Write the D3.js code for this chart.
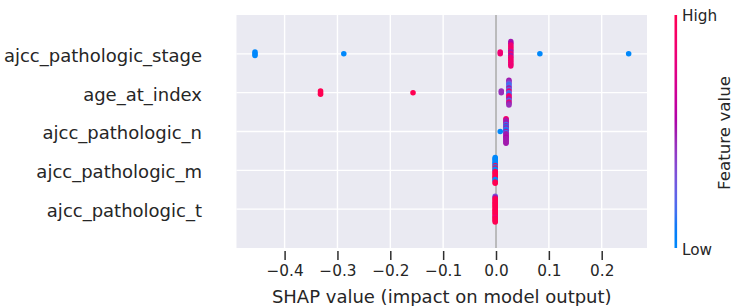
<!DOCTYPE html>
<html>
<head>
<meta charset="utf-8">
<script src="https://cdn.jsdelivr.net/npm/d3@7"></script>
<style>
    body { margin: 0; background: #fff; }
    svg text { font-family: "DejaVu Sans", sans-serif; fill: #262626; }
</style>
</head>
<body>
<div id="chart"></div>
<script>
// features, top row first
var featureNames = ["ajcc_pathologic_stage", "age_at_index", "ajcc_pathologic_n", "ajcc_pathologic_m", "ajcc_pathologic_t"];

// shap values per sample (stacked points listed top to bottom) and scaled feature values (0 = low, 1 = high)
var stageShap = [-0.456, -0.456, -0.456, -0.288, 0.008, 0.008, 0.083, 0.251,
    0.028, 0.028, 0.028, 0.028, 0.028, 0.028, 0.028, 0.028, 0.028, 0.028, 0.028, 0.028, 0.028, 0.028, 0.028];
var stageValue = [0, 0, 0, 0, 0.85, 0.85, 0, 0,
    0.5, 0.55, 0.85, 0.85, 0.9, 0.85, 0.5, 0.85, 0.5, 0.85, 0.85, 0.9, 0.85, 0.85, 0.85];

var ageShap = [-0.332, -0.332, -0.332, -0.157, 0.010, 0.010,
    0.0245, 0.0245, 0.0245, 0.0245, 0.0245, 0.0245, 0.0245, 0.0245, 0.0245, 0.0245, 0.0245, 0.0245, 0.0245, 0.0245, 0.0245, 0.0245, 0.0245];
var ageValue = [1, 1, 1, 1, 0.45, 0.45,
    0.5, 0.45, 0.3, 0.15, 0.2, 0.5, 0.2, 0.85, 0.2, 0.15, 0.85, 0.9, 0.5, 0.2, 0.85, 0.5, 0.45];

var nShap = [0.008,
    0.019, 0.019, 0.019, 0.019, 0.019, 0.019, 0.019, 0.019, 0.019, 0.019, 0.019, 0.019, 0.019, 0.019, 0.019, 0.019, 0.019, 0.019, 0.019, 0.019, 0.019, 0.019];
var nValue = [0,
    0.95, 0.7, 0.5, 0.5, 0.5, 0.15, 0.5, 0.1, 0.5, 0.15, 0.1, 0.5, 0.15, 0.5, 0.5, 0.5, 0.55, 0.5, 0.5, 0.5, 0.5, 0.5];

var mShap = [-0.0015, -0.0015, -0.0015, -0.0015, -0.0015, -0.0015, -0.0015, -0.0015, -0.0015, -0.0015, -0.0015, -0.0015,
    -0.0015, -0.0015, -0.0015, -0.0015, -0.0015, -0.0015, -0.0015, -0.0015, -0.0015, -0.0015, -0.0015];
var mValue = [0, 0, 0, 0, 0, 0, 0.1, 1, 0, 1, 0, 0, 1, 1, 1, 1, 1, 1, 1, 0, 0, 1, 1];

var tShap = [-0.0015, -0.0015, -0.0015, -0.0015, -0.0015, -0.0015, -0.0015, -0.0015, -0.0015, -0.0015, -0.0015, -0.0015,
    -0.0015, -0.0015, -0.0015, -0.0015, -0.0015, -0.0015, -0.0015, -0.0015, -0.0015, -0.0015, -0.0015];
var tValue = [0.3, 0.5, 1, 1, 1, 1, 1, 1, 1, 1, 1, 1, 1, 1, 1, 1, 1, 1, 0.85, 1, 1, 1, 1];

var xTicks = [-0.4, -0.3, -0.2, -0.1, 0.0, 0.1, 0.2];

var shapRows = [stageShap, ageShap, nShap, mShap, tShap];
var valueRows = [stageValue, ageValue, nValue, mValue, tValue];

var plot = {x1: 236.5, x2: 647, y1: 15, y2: 248};
var dotRadius = 2.78;
var rowHeight = 0.4;

var x = d3.scaleLinear().domain([-0.491, 0.2857]).range([plot.x1, plot.x2]);
var y = d3.scaleLinear().domain([-1, featureNames.length]).range([plot.y2, plot.y1]);

// shap "red_blue" map: lch blend from blue to red through a darker purple
function redBlue(t) {
    var l = t < 0.5 ? 54 - 28 * t : 40 + 28 * (t - 0.5);
    var c = 70 + 20 * t;
    var h = 266.93 + t * (380.32 - 266.93);
    return d3.hcl(h % 360, c, l).formatHex();
}

// beeswarm offsets like shap: bin the values, stack points in each bin
function swarmOffsets(shaps) {
    var nbins = 100;
    var lo = d3.min(shaps), hi = d3.max(shaps);
    var quant = shaps.map(function(s) { return Math.round(nbins * (s - lo) / (hi - lo + 1e-8)); });
    var bins = d3.group(d3.range(shaps.length), function(i) { return quant[i]; });
    var ys = new Array(shaps.length).fill(0);
    bins.forEach(function(idx) {
        var pos = idx.map(function(d, layer) { return Math.ceil(layer / 2) * ((layer % 2) * 2 - 1); });
        pos.sort(function(a, b) { return b - a; });
        idx.forEach(function(i, k) { ys[i] = pos[k]; });
    });
    var m = d3.max(ys, function(v) { return v + 1; });
    return ys.map(function(v) { return v * 0.9 * (rowHeight / m); });
}

var svg = d3.select("#chart").append("svg").attr("width", 755).attr("height", 306);

svg.append("rect").attr("x", plot.x1).attr("y", plot.y1)
    .attr("width", plot.x2 - plot.x1).attr("height", plot.y2 - plot.y1).attr("fill", "#eaeaf2");

// grid
svg.append("g").selectAll("line").data(xTicks).enter().append("line")
    .attr("x1", function(d) { return x(d); }).attr("x2", function(d) { return x(d); })
    .attr("y1", plot.y1).attr("y2", plot.y2)
    .attr("stroke", "#fff").attr("stroke-width", 1.4);
svg.append("g").selectAll("line").data(featureNames).enter().append("line")
    .attr("x1", plot.x1).attr("x2", plot.x2)
    .attr("y1", function(d, i) { return y(featureNames.length - 1 - i); })
    .attr("y2", function(d, i) { return y(featureNames.length - 1 - i); })
    .attr("stroke", "#fff").attr("stroke-width", 1.4);

svg.append("line").attr("x1", x(0)).attr("x2", x(0)).attr("y1", plot.y1).attr("y2", plot.y2)
    .attr("stroke", "#999999").attr("stroke-width", 1.3);

// points
featureNames.forEach(function(name, i) {
    var pos = featureNames.length - 1 - i;
    var shaps = shapRows[i], vals = valueRows[i];
    var offs = swarmOffsets(shaps);
    svg.append("g").selectAll("circle").data(shaps).enter().append("circle")
        .attr("cx", function(d) { return x(d); })
        .attr("cy", function(d, k) { return y(pos + offs[k]); })
        .attr("r", dotRadius)
        .attr("fill", function(d, k) { return redBlue(vals[k]); });
});

// y labels
svg.append("g").selectAll("text").data(featureNames).enter().append("text")
    .attr("x", 202).attr("y", function(d, i) { return y(featureNames.length - 1 - i); })
    .attr("dy", "0.44em").attr("text-anchor", "end").style("font-size", "18px")
    .text(function(d) { return d; });

// x axis
var xAxis = svg.append("g").attr("transform", "translate(0,251)")
    .call(d3.axisBottom(x).tickValues(xTicks).tickFormat(d3.format(".1f")).tickSize(9).tickPadding(5.5));
xAxis.select(".domain").remove();
xAxis.selectAll(".tick line").attr("stroke", "#2e2e2e").attr("stroke-width", 1.5);
xAxis.selectAll(".tick text").attr("fill", "#262626").style("font-size", "15.3px")
    .style("font-family", "'DejaVu Sans', sans-serif");

svg.append("text").attr("x", (plot.x1 + plot.x2) / 2).attr("y", 302.7)
    .attr("text-anchor", "middle").style("font-size", "18px")
    .text("SHAP value (impact on model output)");

// colour bar
var grad = svg.append("defs").append("linearGradient").attr("id", "cbar")
    .attr("x1", 0).attr("y1", 1).attr("x2", 0).attr("y2", 0);
grad.selectAll("stop").data(d3.range(0, 1.0001, 0.05)).enter().append("stop")
    .attr("offset", function(d) { return d; })
    .attr("stop-color", function(d) { return redBlue(d); });
svg.append("rect").attr("x", 674.5).attr("y", plot.y1).attr("width", 2.6)
    .attr("height", plot.y2 - plot.y1).attr("fill", "url(#cbar)");

svg.append("text").attr("x", 682).attr("y", 20.8).style("font-size", "15.3px").text("High");
svg.append("text").attr("x", 682).attr("y", 255).style("font-size", "15.3px").text("Low");
svg.append("text").attr("transform", "translate(729.5,133) rotate(-90)")
    .attr("text-anchor", "middle").style("font-size", "16.7px").text("Feature value");
</script>
</body>
</html>
